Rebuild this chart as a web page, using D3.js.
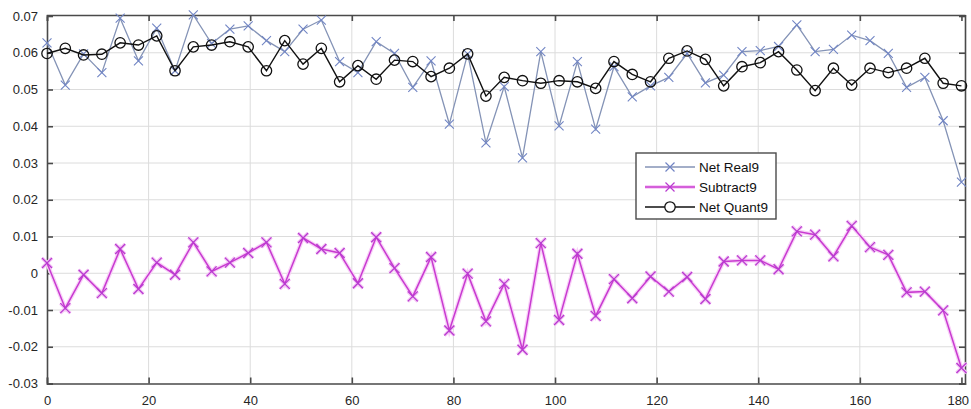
<!DOCTYPE html>
<html><head><meta charset="utf-8">
<script src="https://cdn.jsdelivr.net/npm/d3@7"></script>
<style>
html,body{margin:0;padding:0;background:#fff;}
svg{display:block;font-family:"Liberation Sans",Arial,sans-serif;}
</style></head>
<body>
<svg id="chart" width="971" height="409"></svg>
<script>
const step = 3.6;
const netReal9 = [0.0627,0.0512,0.0597,0.0546,0.0694,0.0578,0.0667,0.0551,0.0703,0.0625,0.0664,0.0673,
  0.0633,0.0603,0.0664,0.0689,0.0576,0.0546,0.0630,0.0598,0.0506,0.0578,0.0406,0.0597,
  0.0355,0.0508,0.0314,0.0603,0.0401,0.0576,0.0392,0.0562,0.0480,0.0510,0.0533,0.0598,0.0518,
  0.0539,0.0603,0.0606,0.0617,0.0676,0.0603,0.0609,0.0648,0.0633,0.0598,0.0506,0.0533,0.0415,0.0248];
const subtract9 = [0.0028,-0.0095,-0.0004,-0.0054,0.0066,-0.0043,0.0029,-0.0004,0.0084,0.0005,0.0029,0.0055,
  0.0084,-0.0029,0.0096,0.0066,0.0055,-0.0027,0.0098,0.0014,-0.0063,0.0044,-0.0156,-0.0001,
  -0.0131,-0.0029,-0.0208,0.0082,-0.0127,0.0053,-0.0116,-0.0016,-0.0068,-0.0009,-0.0050,-0.0010,-0.0070,
  0.0032,0.0035,0.0035,0.0011,0.0114,0.0105,0.0046,0.0129,0.0071,0.0050,-0.0052,-0.0050,-0.0101,-0.0258];
const netQuant9 = [0.0598,0.0612,0.0594,0.0596,0.0627,0.0621,0.0646,0.0551,0.0616,0.0621,0.0630,0.0616,
  0.0551,0.0633,0.0569,0.0612,0.0521,0.0565,0.0528,0.0580,0.0576,0.0535,0.0558,0.0597,
  0.0482,0.0533,0.0524,0.0517,0.0524,0.0521,0.0503,0.0576,0.0541,0.0521,0.0585,0.0605,0.0582,
  0.0510,0.0562,0.0573,0.0603,0.0553,0.0497,0.0558,0.0512,0.0558,0.0546,0.0558,0.0585,0.0517,0.0510];
const xTicks = [0,20,40,60,80,100,120,140,160,180];
const yTicks = [-0.03,-0.02,-0.01,0,0.01,0.02,0.03,0.04,0.05,0.06,0.07];
const yTickLabels = ["-0.03","-0.02","-0.01","0","0.01","0.02","0.03","0.04","0.05","0.06","0.07"];
const seriesNames = ["Net Real9","Subtract9","Net Quant9"];

const svg = d3.select("#chart");
const L = 47, R = 965, T = 16, B = 383.5;
const x = d3.scaleLinear().domain([0, 180.7]).range([L, R]);
const y = d3.scaleLinear().domain([-0.03, 0.07]).range([B, T]);
const axisCol = "#4a4a4a", gridCol = "#dcdcdc", txtCol = "#262626";

// grid
const g = svg.append("g");
g.selectAll(".vg").data(xTicks.filter(d => d > 0 && d < 180)).enter().append("line")
  .attr("x1", d => x(d)).attr("x2", d => x(d)).attr("y1", T).attr("y2", B)
  .attr("stroke", gridCol).attr("stroke-width", 1);
g.selectAll(".hg").data(yTicks.filter(d => d > -0.03 && d < 0.07)).enter().append("line")
  .attr("x1", L).attr("x2", R).attr("y1", d => y(d)).attr("y2", d => y(d))
  .attr("stroke", gridCol).attr("stroke-width", 1);

// axes with ticks
const xb = d3.axisBottom(x).tickValues(xTicks).tickSize(-6).tickPadding(12).tickFormat(d3.format("d"));
const xt = d3.axisTop(x).tickValues(xTicks).tickSize(-6).tickFormat("");
const yl = d3.axisLeft(y).tickValues(yTicks).tickSize(-6).tickPadding(9).tickFormat((d,i) => yTickLabels[i]);
const yr = d3.axisRight(y).tickValues(yTicks).tickSize(-6).tickFormat("");
function styleAxis(sel){
  sel.select(".domain").attr("stroke", axisCol).attr("stroke-width", 1.6);
  sel.selectAll(".tick line").attr("stroke", axisCol).attr("stroke-width", 1.6);
  sel.selectAll("text").attr("fill", txtCol).attr("font-size", 13).attr("font-family", '"Liberation Sans",Arial,sans-serif');
}
const xbG = svg.append("g").attr("transform", `translate(0,${B})`).call(xb).call(styleAxis);
xbG.selectAll(".tick text").filter(d => d === 180).attr("text-anchor", "end").attr("dx", "0.55em");
svg.append("g").attr("transform", `translate(0,${T-1})`).call(xt).call(styleAxis);
svg.append("g").attr("transform", `translate(${L},0)`).call(yl).call(styleAxis);
svg.append("g").attr("transform", `translate(${R},0)`).call(yr).call(styleAxis);
svg.selectAll(".domain").attr("d", function(){ return d3.select(this).attr("d").replace(/V-?6/g,"V0").replace(/H-?6/g,"H0"); });

const clip = svg.append("g");
const lineGen = arr => d3.line().x((d,i) => x(i*step)).y(d => y(d))(arr);
function crosses(sel, arr, col, sz, w){
  const pts = arr.map((d,i) => [x(i*step), y(d)]);
  sel.selectAll(null).data(pts).enter().append("path")
    .attr("d", p => `M${p[0]-sz},${p[1]-sz}L${p[0]+sz},${p[1]+sz}M${p[0]-sz},${p[1]+sz}L${p[0]+sz},${p[1]-sz}`)
    .attr("stroke", col).attr("stroke-width", w).attr("fill", "none");
}

// Net Real9
const gr = clip.append("g");
gr.append("path").attr("d", lineGen(netReal9)).attr("fill","none").attr("stroke","#8493b6").attr("stroke-width",1.3);
crosses(gr, netReal9, "#7185c4", 4.5, 1.1);

// Subtract9
const gs = clip.append("g");
gs.append("path").attr("d", lineGen(subtract9)).attr("fill","none").attr("stroke","#f8d0f8").attr("stroke-width",4);
crosses(gs, subtract9, "#f5c6f5", 5, 3.5);
gs.append("path").attr("d", lineGen(subtract9)).attr("fill","none").attr("stroke","#c83ad0").attr("stroke-width",1.5);
crosses(gs, subtract9, "#b83ad0", 5, 1.3);

// Net Quant9
const gq = clip.append("g");
gq.append("path").attr("d", lineGen(netQuant9)).attr("fill","none").attr("stroke","#111").attr("stroke-width",1.4);
gq.selectAll(null).data(netQuant9).enter().append("circle")
  .attr("cx", (d,i) => x(i*step)).attr("cy", d => y(d)).attr("r", 5.2)
  .attr("fill","none").attr("stroke","#111").attr("stroke-width",1.3);

// legend
const lg = svg.append("g");
lg.append("rect").attr("x",636).attr("y",153).attr("width",140).attr("height",66)
  .attr("fill","#fff").attr("stroke",axisCol).attr("stroke-width",1.4);
const ly = [167, 187, 207];
const lcol = ["#8493b6","#c83ad0","#111"];
seriesNames.forEach((n,i) => {
  if (i === 1) lg.append("line").attr("x1",645).attr("x2",695).attr("y1",ly[i]).attr("y2",ly[i]).attr("stroke","#f8d0f8").attr("stroke-width",4);
  lg.append("line").attr("x1",645).attr("x2",695).attr("y1",ly[i]).attr("y2",ly[i]).attr("stroke",lcol[i]).attr("stroke-width",1.3);
  const cx = 670, cy = ly[i];
  if (i === 2) lg.append("circle").attr("cx",cx).attr("cy",cy).attr("r",5.2).attr("fill","#fff").attr("stroke","#111").attr("stroke-width",1.3);
  else lg.append("path").attr("d",`M${cx-4.5},${cy-4.5}L${cx+4.5},${cy+4.5}M${cx-4.5},${cy+4.5}L${cx+4.5},${cy-4.5}`)
     .attr("stroke", i===0 ? "#7185c4" : "#b83ad0").attr("stroke-width",1.2);
  lg.append("text").attr("x",699).attr("y",ly[i]+5).text(n).attr("font-size",13.5).attr("fill","#111");
});
</script>
</body></html>
